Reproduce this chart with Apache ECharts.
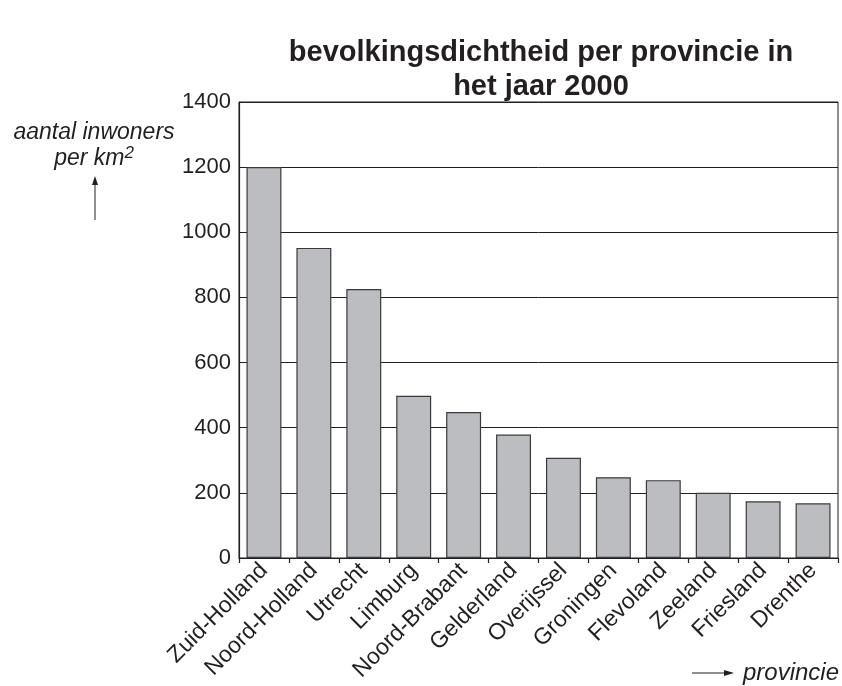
<!DOCTYPE html>
<html>
<head>
<meta charset="utf-8">
<script src="https://cdn.jsdelivr.net/npm/echarts@6/dist/echarts.min.js"></script>
<style>
html,body{margin:0;padding:0;background:#fff;}
#chart{width:842px;height:686px;}
</style>
</head>
<body>
<div id="chart"></div>
<script>
const provinces = ['Zuid-Holland','Noord-Holland','Utrecht','Limburg','Noord-Brabant','Gelderland','Overijssel','Groningen','Flevoland','Zeeland','Friesland','Drenthe'];
const density = [1200, 952, 826, 498, 448, 379, 308, 248, 239, 200, 174, 168];
const yTicks = [0, 200, 400, 600, 800, 1000, 1200, 1400];
const titleLines = ['bevolkingsdichtheid per provincie in', 'het jaar 2000'];
const yName = ['aantal inwoners', 'per km'];
const xName = 'provincie';

const ink = '#231f20';
const font = '"Liberation Sans", Arial, sans-serif';
const chart = echarts.init(document.getElementById('chart'));

chart.setOption({
  backgroundColor: '#fff',
  animation: false,
  textStyle: { fontFamily: font, color: ink },
  grid: { left: 239, right: 4, top: 102, bottom: 128, show: true, borderColor: ink, borderWidth: 1, backgroundColor: 'transparent' },
  xAxis: {
    type: 'category',
    data: provinces,
    axisLine: { lineStyle: { color: ink, width: 1.2 } },
    axisTick: { show: true, length: 5, lineStyle: { color: ink, width: 1.2 } },
    axisLabel: { rotate: 45, fontSize: 23, color: ink, fontFamily: font, margin: 9 }
  },
  yAxis: {
    type: 'value',
    min: yTicks[0],
    max: yTicks[yTicks.length - 1],
    interval: yTicks[1] - yTicks[0],
    axisLine: { show: true, lineStyle: { color: ink, width: 1.2 } },
    axisTick: { show: false },
    axisLabel: { fontSize: 22, color: ink, fontFamily: font, margin: 8, formatter: v => String(v) },
    splitLine: { lineStyle: { color: ink, width: 1 } }
  },
  series: [{
    type: 'bar',
    data: density,
    barWidth: '70%',
    itemStyle: { color: '#bcbdc1', borderColor: '#3a3a3c', borderWidth: 1.2 }
  }],
  graphic: [
    { type: 'text', x: 541, y: 36, style: { text: titleLines.join('\n'), fontSize: 29, fontWeight: 'bold', fontFamily: font, fill: ink, align: 'center', verticalAlign: 'top', lineHeight: 34 } },
    { type: 'text', x: 94, y: 133, style: { text: yName[0], fontSize: 23, fontStyle: 'italic', fontFamily: font, fill: ink, align: 'center', verticalAlign: 'middle' } },
    { type: 'text', x: 94, y: 159, style: {
      text: '{n|' + yName[1] + '}{s|2}',
      rich: {
        n: { fontSize: 23, fontStyle: 'italic', fontFamily: font, fill: ink },
        s: { fontSize: 17, fontStyle: 'italic', fontFamily: font, fill: ink, verticalAlign: 'top', padding: [0, 0, 12, 0] }
      },
      fontStyle: 'italic', fontFamily: font, fill: ink,
      align: 'center', verticalAlign: 'middle', fontSize: 23 } },
    { type: 'line', shape: { x1: 95, y1: 220, x2: 95, y2: 182 }, style: { stroke: ink, lineWidth: 1 } },
    { type: 'polygon', shape: { points: [[95, 176], [92, 185], [98, 185]] }, style: { fill: ink } },
    { type: 'line', shape: { x1: 692, y1: 673, x2: 726, y2: 673 }, style: { stroke: ink, lineWidth: 1 } },
    { type: 'polygon', shape: { points: [[734, 673], [724, 670], [724, 676]] }, style: { fill: ink } },
    { type: 'text', x: 743, y: 673, style: { text: xName, fontSize: 24, fontStyle: 'italic', fontFamily: font, fill: ink, verticalAlign: 'middle' } }
  ]
});
</script>
</body>
</html>
